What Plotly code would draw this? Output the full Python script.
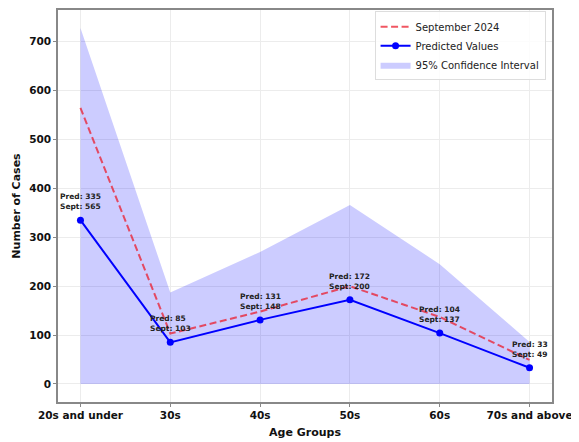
import plotly.graph_objects as go

categories = ["20s and under", "30s", "40s", "50s", "60s", "70s and above"]
predicted = [335, 85, 131, 172, 104, 33]
september = [565, 103, 148, 200, 137, 49]
ci_upper = [728, 187, 270, 366, 245, 86]
ci_lower = [0, 0, 0, 0, 0, 0]

FONT = "DejaVu Sans"
fig = go.Figure()

fig.add_trace(go.Scatter(x=categories, y=ci_lower, mode="lines", line=dict(width=0),
                         showlegend=False, hoverinfo="skip"))
fig.add_trace(go.Scatter(x=categories, y=ci_upper, mode="lines", line=dict(width=0),
                         fill="tonexty", fillcolor="rgba(0,0,255,0.2)",
                         name="95% Confidence Interval", legendrank=3))
fig.add_trace(go.Scatter(x=categories, y=september, mode="lines",
                         line=dict(color="rgba(235,30,45,0.75)", width=2, dash="7px,3.5px"),
                         name="September 2024", legendrank=1))
fig.add_trace(go.Scatter(x=categories, y=predicted, mode="lines+markers",
                         line=dict(color="#0000ff", width=2),
                         marker=dict(color="#0000ff", size=7),
                         name="Predicted Values", legendrank=2))

for c, p, s in zip(categories, predicted, september):
    fig.add_annotation(x=c, y=p, text=f"<b>Pred: {p}<br>Sept: {s}</b>", showarrow=False,
                       yanchor="bottom", xanchor="center", yshift=7, align="left",
                       font=dict(family=FONT, size=7.5, color="#222222"))

# page has an 8px body margin; size figure so the plot lands where the reference's does
fig.update_layout(
    width=571, height=434,
    margin=dict(l=50, r=27, t=2, b=40, autoexpand=False),
    plot_bgcolor="white", paper_bgcolor="white",
    font=dict(family=FONT, color="#111111"),
    legend=dict(x=0.987, y=0.997, xanchor="right", yanchor="top",
                bgcolor="rgba(255,255,255,0.85)", bordercolor="#dddddd", borderwidth=1,
                font=dict(family=FONT, size=10, color="#222222"),
                traceorder="normal", itemwidth=30, tracegroupgap=0),
    showlegend=True,
)
fig.update_xaxes(
    range=[-0.25, 5.25], showgrid=True, gridcolor="#ececec", gridwidth=1,
    showline=True, linecolor="#888888", linewidth=1.5, mirror=True,
    ticks="outside", ticklen=3, tickcolor="#888888", automargin=False,
    tickfont=dict(family=FONT, size=10.5, color="#111111", weight="bold"),
    title=dict(text="<b>Age Groups</b>", font=dict(family=FONT, size=11), standoff=8),
)
fig.update_yaxes(
    range=[-37, 765], dtick=100, showgrid=True, gridcolor="#ececec", gridwidth=1,
    zeroline=False, automargin=False,
    showline=True, linecolor="#888888", linewidth=1.5, mirror=True,
    ticks="outside", ticklen=3, tickcolor="#888888",
    tickfont=dict(family=FONT, size=10.5, color="#111111", weight="bold"),
    title=dict(text="<b>Number of Cases</b>", font=dict(family=FONT, size=11), standoff=6),
)

fig.write_html("out.html")
